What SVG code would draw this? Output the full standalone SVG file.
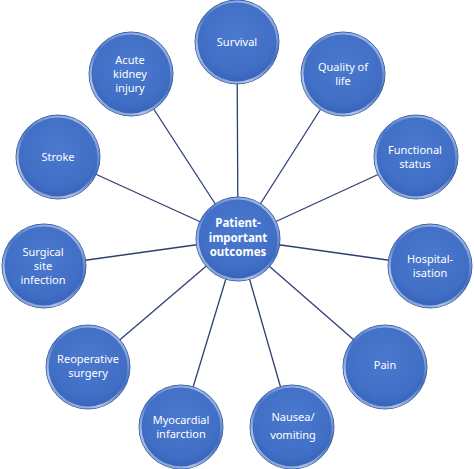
<svg xmlns="http://www.w3.org/2000/svg" width="474" height="469" viewBox="0 0 474 469">
<defs>
<radialGradient id="fillG" cx="50%" cy="40%" r="60%">
<stop offset="0" stop-color="#4A79CE"/>
<stop offset="0.75" stop-color="#416FC6"/>
<stop offset="1" stop-color="#3562B7"/>
</radialGradient>
<linearGradient id="rimG" x1="0.8" y1="0" x2="0.2" y2="1">
<stop offset="0" stop-color="#ffffff" stop-opacity="0.55"/>
<stop offset="0.45" stop-color="#ffffff" stop-opacity="0.05"/>
<stop offset="0.8" stop-color="#ffffff" stop-opacity="0.6"/>
<stop offset="1" stop-color="#ffffff" stop-opacity="0.3"/>
</linearGradient>
<style>
.ball{fill:url(#fillG);stroke:#3A5FA8;stroke-width:1}
.rim{fill:none;stroke:url(#rimG);stroke-width:2.2}
.lbl{fill:#ffffff;font-family:"Noto Sans","Open Sans",sans-serif;font-size:11px;text-anchor:middle}
.bold{font-weight:bold;font-size:11.5px}
.con line{stroke:#2F3F72;stroke-width:1.3}
</style>
</defs>
<rect width="474" height="469" fill="#ffffff"/>
<g id="connectors" class="con">
<line x1="238" y1="239" x2="237" y2="42"/>
<line x1="238" y1="239" x2="131" y2="74"/>
<line x1="238" y1="239" x2="343" y2="74"/>
<line x1="238" y1="239" x2="58" y2="157"/>
<line x1="238" y1="239" x2="416" y2="157"/>
<line x1="238" y1="239" x2="44" y2="266"/>
<line x1="238" y1="239" x2="430" y2="266"/>
<line x1="238" y1="239" x2="88" y2="367"/>
<line x1="238" y1="239" x2="385" y2="367"/>
<line x1="238" y1="239" x2="181" y2="427"/>
<line x1="238" y1="239" x2="292" y2="427"/>
</g>
<g id="center">
<circle class="ball" cx="238" cy="239" r="42"/><circle class="rim" cx="238" cy="239" r="40.5"/>
<text class="lbl bold" x="238" y="227">Patient-</text>
<text class="lbl bold" x="238" y="241.5">important</text>
<text class="lbl bold" x="238" y="256">outcomes</text>
</g>
<g id="survival">
<circle class="ball" cx="237" cy="42" r="42"/><circle class="rim" cx="237" cy="42" r="40.5"/>
<text class="lbl" x="237" y="46">Survival</text>
</g>
<g id="aki">
<circle class="ball" cx="131" cy="74" r="42"/><circle class="rim" cx="131" cy="74" r="40.5"/>
<text class="lbl" x="130" y="63.5">Acute</text>
<text class="lbl" x="130" y="77.5">kidney</text>
<text class="lbl" x="130" y="91.5">injury</text>
</g>
<g id="qol">
<circle class="ball" cx="343" cy="74" r="42"/><circle class="rim" cx="343" cy="74" r="40.5"/>
<text class="lbl" x="343" y="70.5">Quality of</text>
<text class="lbl" x="343" y="84.5">life</text>
</g>
<g id="stroke">
<circle class="ball" cx="58" cy="157" r="42"/><circle class="rim" cx="58" cy="157" r="40.5"/>
<text class="lbl" x="58" y="161">Stroke</text>
</g>
<g id="functional">
<circle class="ball" cx="416" cy="157" r="42"/><circle class="rim" cx="416" cy="157" r="40.5"/>
<text class="lbl" x="415" y="153.5">Functional</text>
<text class="lbl" x="415" y="167.5">status</text>
</g>
<g id="ssi">
<circle class="ball" cx="44" cy="266" r="42"/><circle class="rim" cx="44" cy="266" r="40.5"/>
<text class="lbl" x="43" y="256">Surgical</text>
<text class="lbl" x="43" y="270">site</text>
<text class="lbl" x="43" y="284">infection</text>
</g>
<g id="hosp">
<circle class="ball" cx="430" cy="266" r="42"/><circle class="rim" cx="430" cy="266" r="40.5"/>
<text class="lbl" x="430" y="263">Hospital-</text>
<text class="lbl" x="430" y="277">isation</text>
</g>
<g id="reop">
<circle class="ball" cx="88" cy="367" r="42"/><circle class="rim" cx="88" cy="367" r="40.5"/>
<text class="lbl" x="88" y="363">Reoperative</text>
<text class="lbl" x="88" y="377">surgery</text>
</g>
<g id="pain">
<circle class="ball" cx="385" cy="367" r="42"/><circle class="rim" cx="385" cy="367" r="40.5"/>
<text class="lbl" x="385" y="369">Pain</text>
</g>
<g id="mi">
<circle class="ball" cx="181" cy="427" r="42"/><circle class="rim" cx="181" cy="427" r="40.5"/>
<text class="lbl" x="181" y="423.5">Myocardial</text>
<text class="lbl" x="181" y="437.5">infarction</text>
</g>
<g id="nausea">
<circle class="ball" cx="292" cy="427" r="42"/><circle class="rim" cx="292" cy="427" r="40.5"/>
<text class="lbl" x="293" y="421">Nausea/</text>
<text class="lbl" x="293" y="439">vomiting</text>
</g>
</svg>
